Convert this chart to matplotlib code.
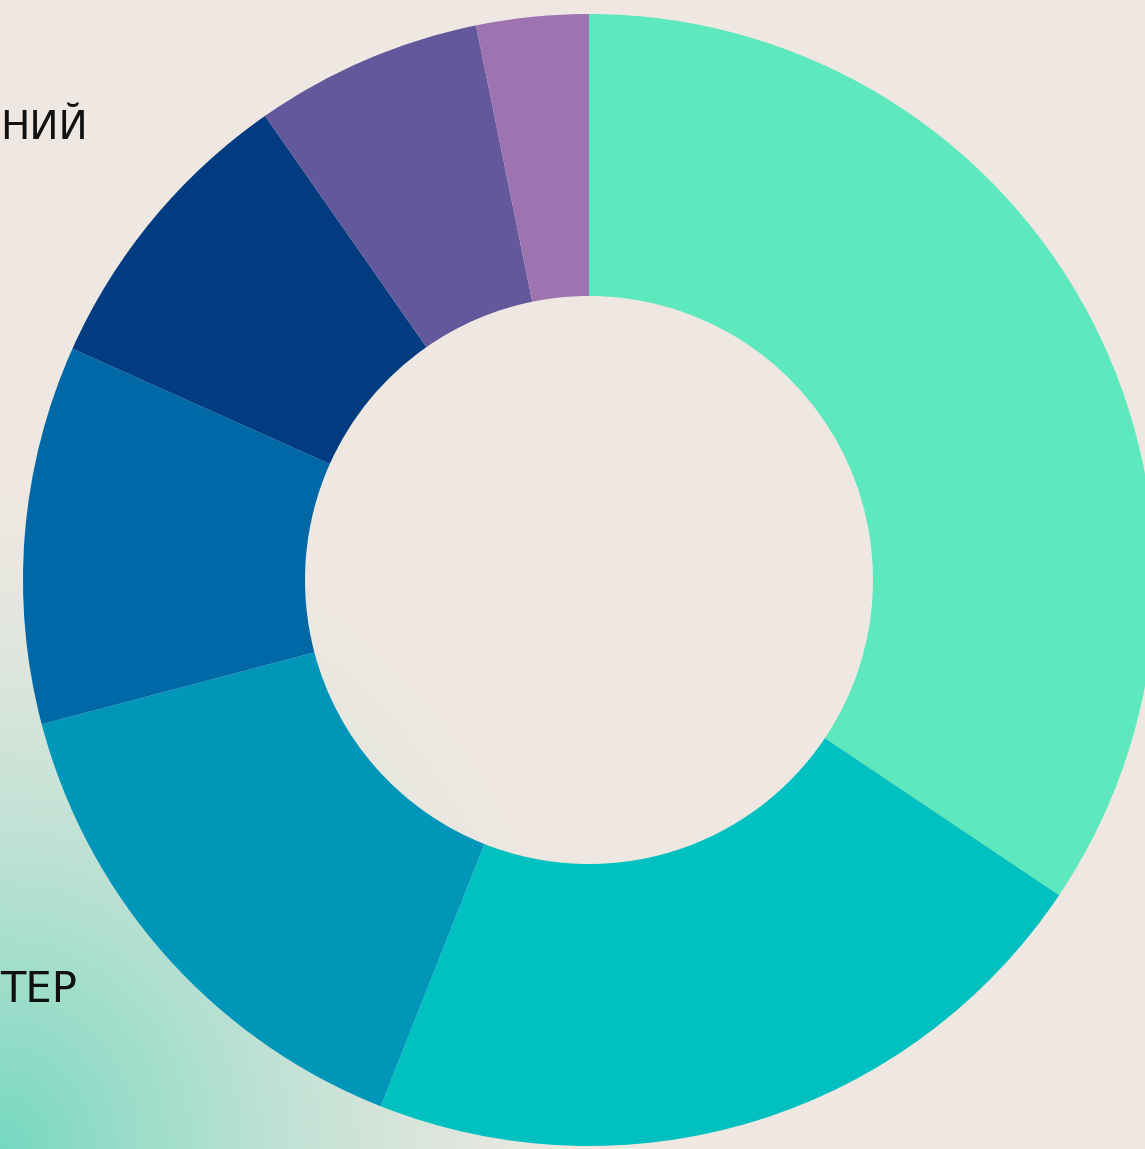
import numpy as np
import matplotlib
matplotlib.use("Agg")
import matplotlib.pyplot as plt
from matplotlib.colors import to_rgb

# Data (shares, clockwise from 12 o'clock)
categories = ["A", "B", "C", "D", "E", "F", "G"]
values = [34.4, 21.6, 14.9, 10.8, 8.6, 6.5, 3.2]
colors = ["#5DE8BD", "#00C1C0", "#0096BA", "#0068A6", "#003C7F", "#62589B", "#9D74B0"]
labels_visible = ["НИЙ", "ТЕР"]

W, H = 1145, 1149
BG = "#EFE8E2"
fig = plt.figure(figsize=(W / 100, H / 100), dpi=100, facecolor=BG)
ax = fig.add_axes([0, 0, 1, 1])
ax.set_facecolor(BG)
ax.axis("off")

# pixel geometry of donut
cx, cy, R = 589.0, 580.0, 566.0
ext = (-cx / R, (W - cx) / R, -(H - cy) / R, cy / R)

# background gradient in bottom-left corner
yy, xx = np.mgrid[0:H, 0:W]
d = np.sqrt((xx * 1.05) ** 2 + ((H - yy) * 0.95) ** 2)
alpha = np.clip(1 - d / 640.0, 0, 1) ** 1.5
grad = np.zeros((H, W, 4))
grad[..., :3] = to_rgb("#6FD8BE")
grad[..., 3] = alpha * 0.95
ax.imshow(grad, extent=ext, origin="upper", zorder=0, aspect="auto")

ax.pie(values, colors=colors, startangle=90, counterclock=False,
       radius=1.0, wedgeprops=dict(width=282 / 566, edgecolor="none", linewidth=0),
       center=(0, 0), frame=False)
ax.set_xlim(ext[0], ext[1])
ax.set_ylim(ext[2], ext[3])
ax.set_aspect("auto")
ax.axis("off")

fig.text(0.0, 1 - 139 / H, labels_visible[0], fontsize=28, color="#111111",
         ha="left", va="baseline", family="DejaVu Sans")
fig.text(0.0, 1 - 1002 / H, labels_visible[1], fontsize=30, color="#111111",
         ha="left", va="baseline", family="DejaVu Sans")

fig.savefig("out.png", dpi=100, facecolor=BG)
